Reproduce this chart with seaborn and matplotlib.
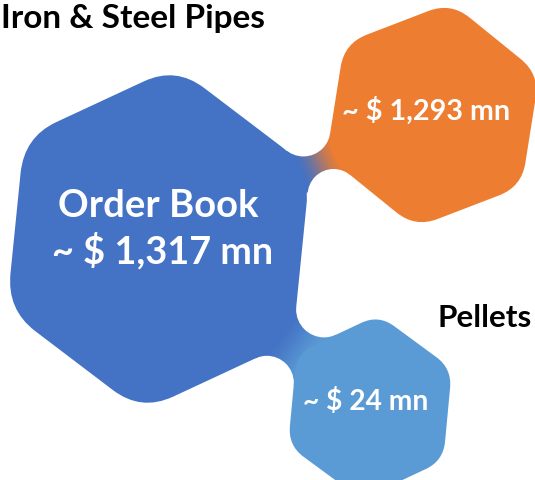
import numpy as np
import matplotlib
matplotlib.use("Agg")
import matplotlib.pyplot as plt
import seaborn as sns
from matplotlib.path import Path
from matplotlib.patches import PathPatch, Polygon, Circle
from matplotlib.colors import to_rgb

# ---- data ----
segments = ["Order Book", "Iron & Steel Pipes", "Pellets"]
values_mn = [1317, 1293, 24]
hex_colors = ["#4472C4", "#ED7D31", "#5B9BD5"]

sns.set_theme(style="white")
plt.rcParams['font.family'] = ['Lato', 'DejaVu Sans']
palette = sns.color_palette(hex_colors)

W, H = 535, 481
fig = plt.figure(figsize=(W / 100, H / 100), dpi=100)
ax = fig.add_axes([0, 0, 1, 1])

# layout: (center, radius, rotation in degrees, vertical stretch)
layout = [((158.5, 240), 166, 6.0, 1.045),
          ((433, 116), 114, 9.0, 1.0),
          ((370, 408), 90, 5.5, 1.03)]


def hex_vertices(c, R, rot, sy):
    ang = np.deg2rad(-90 + rot + 60 * np.arange(6))
    return np.column_stack([c[0] + R * np.cos(ang), c[1] + R * sy * np.sin(ang)])


def rounded_path(V, frac=0.21):
    n = len(V)
    verts, codes = [], []
    for i in range(n):
        p, a, b = V[i], V[i - 1], V[(i + 1) % n]
        p1 = p + (a - p) * frac
        p2 = p + (b - p) * frac
        verts.append(p1)
        codes.append(Path.MOVETO if i == 0 else Path.LINETO)
        verts += [p, p2]
        codes += [Path.CURVE3, Path.CURVE3]
    verts.append(verts[0])
    codes.append(Path.CLOSEPOLY)
    return Path(verts, codes)


def offset_line(A, B, c, r):
    d = (B - A) / np.linalg.norm(B - A)
    n = np.array([-d[1], d[0]])
    if np.dot(n, A - np.asarray(c)) < 0:
        n = -n
    return A + n * r, d, n


def fillet(e1, c1, e2, c2, r):
    A1, d1, n1 = offset_line(e1[0], e1[1], c1, r)
    A2, d2, n2 = offset_line(e2[0], e2[1], c2, r)
    t, s = np.linalg.solve(np.column_stack([d1, -d2]), A2 - A1)
    C = A1 + t * d1
    return C, C - n1 * r, C - n2 * r


verts = [hex_vertices(*l) for l in layout]
centers = [np.array(l[0], float) for l in layout]


def connector(ia, ib, ea_up, eb_up, ea_lo, eb_lo, r_up, r_lo, ca, cb):
    Va, Vb = verts[ia], verts[ib]
    Cu, Tua, Tub = fillet((Va[ea_up[0]], Va[ea_up[1]]), centers[ia],
                          (Vb[eb_up[0]], Vb[eb_up[1]]), centers[ib], r_up)
    Cl, Tla, Tlb = fillet((Va[ea_lo[0]], Va[ea_lo[1]]), centers[ia],
                          (Vb[eb_lo[0]], Vb[eb_lo[1]]), centers[ib], r_lo)
    poly = np.array([Cu, Tub, centers[ib], Tlb, Cl, Tla, centers[ia], Tua])
    patch = Polygon(poly, closed=True, facecolor='none', edgecolor='none')
    ax.add_patch(patch)
    G0 = (Tua + Tla) / 2
    G1 = (Tub + Tlb) / 2
    u = G1 - G0
    L2 = np.dot(u, u)
    x0, y0 = poly.min(axis=0) - 2
    x1, y1 = poly.max(axis=0) + 2
    xs = np.linspace(x0, x1, 300)
    ys = np.linspace(y0, y1, 300)
    X, Y = np.meshgrid(xs, ys)
    t = ((X - G0[0]) * u[0] + (Y - G0[1]) * u[1]) / L2
    t = np.clip(t, 0, 1)
    t = t * t * (3 - 2 * t)
    a = np.array(to_rgb(ca))
    b = np.array(to_rgb(cb))
    img = a[None, None, :] * (1 - t[..., None]) + b[None, None, :] * t[..., None]
    im = ax.imshow(img, extent=(x0, x1, y1, y0), origin='upper',
                   interpolation='bilinear', aspect='auto', zorder=1)
    im.set_clip_path(patch)
    for C, r in ((Cu, r_up), (Cl, r_lo)):
        ax.add_patch(Circle(C, r, facecolor='white', edgecolor='none', zorder=2))


# vertex index: 0 top, 1 upper-right, 2 lower-right, 3 bottom, 4 lower-left, 5 upper-left
connector(0, 1, (0, 1), (5, 4), (1, 2), (4, 3), 27, 26, palette[0], palette[1])
connector(0, 2, (1, 2), (5, 0), (2, 3), (5, 4), 28, 27, palette[0], palette[2])

for V, col in zip(verts, palette):
    ax.add_patch(PathPatch(rounded_path(V), facecolor=col, edgecolor='none', zorder=3))


def fit_text(s, xl, xr, base, color):
    t = ax.text((xl + xr) / 2, base, s, ha='center', va='baseline', fontsize=20,
                color=color, fontweight='bold', zorder=5)
    fig.canvas.draw()
    w = t.get_window_extent().width
    t.set_fontsize(20 * (xr - xl) / w)
    return t


value_labels = [f"~ $ {v:,} mn" for v in values_mn]

fit_text(segments[0], 58, 258, 217, 'white')
fit_text(value_labels[0], 52, 273, 263, 'white')
fit_text(value_labels[1], 342, 510, 120, 'white')
fit_text(value_labels[2], 303, 428, 410, 'white')
fit_text(segments[1], 1, 265, 28, 'black')
fit_text(segments[2], 438, 532, 327, 'black')

ax.set_xlim(0, W)
ax.set_ylim(H, 0)
ax.axis('off')
fig.savefig("out.png", dpi=100)
